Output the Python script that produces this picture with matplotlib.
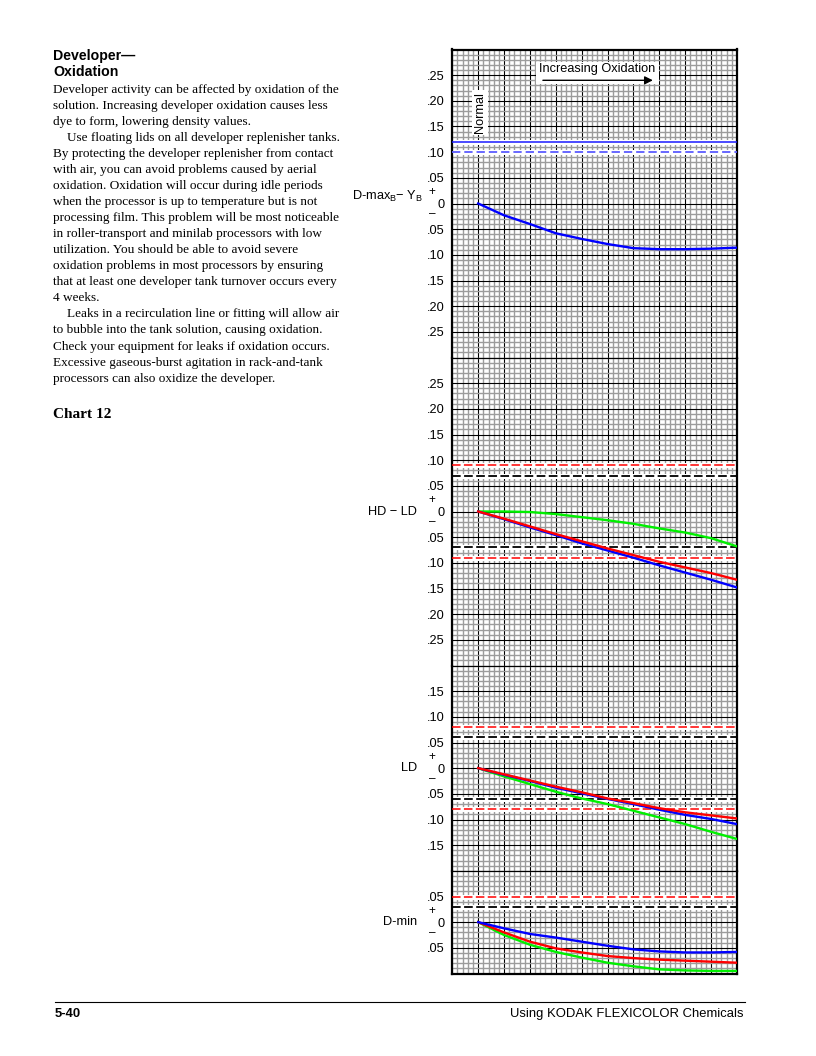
import matplotlib
matplotlib.use("Agg")
import matplotlib.pyplot as plt
from matplotlib.ticker import MultipleLocator, FixedLocator, FuncFormatter
from matplotlib.lines import Line2D
from matplotlib.patches import Rectangle

plt.rcParams['font.family'] = ['Liberation Sans', 'DejaVu Sans']
plt.rcParams['mathtext.fontset'] = 'custom'
plt.rcParams['mathtext.rm'] = 'Liberation Sans'
plt.rcParams['mathtext.it'] = 'Liberation Sans:italic'
plt.rcParams['mathtext.bf'] = 'Liberation Sans:bold'

# ---------------- data ----------------
steps = [1, 2, 3, 4, 5, 6, 7, 8, 9, 10, 11]

dmax_blue = [0, -0.023, -0.040, -0.058, -0.069, -0.079, -0.087, -0.089, -0.089, -0.088, -0.086]

hdld_green = [0, 0.000, -0.001, -0.005, -0.011, -0.017, -0.024, -0.033, -0.041, -0.052, -0.068]
hdld_blue = [0, -0.015, -0.031, -0.046, -0.062, -0.076, -0.090, -0.105, -0.119, -0.133, -0.148]
hdld_red = [0, -0.014, -0.029, -0.044, -0.058, -0.072, -0.085, -0.098, -0.109, -0.120, -0.133]

ld_green = [0, -0.016, -0.031, -0.046, -0.059, -0.070, -0.083, -0.096, -0.109, -0.124, -0.138]
ld_blue = [0, -0.013, -0.025, -0.038, -0.049, -0.060, -0.070, -0.081, -0.091, -0.099, -0.109]
ld_red = [0, -0.012, -0.024, -0.036, -0.047, -0.059, -0.068, -0.078, -0.086, -0.092, -0.098]

dmin_green = [0, -0.025, -0.044, -0.058, -0.069, -0.079, -0.086, -0.092, -0.094, -0.095, -0.095]
dmin_red = [0, -0.020, -0.038, -0.051, -0.059, -0.066, -0.070, -0.073, -0.075, -0.077, -0.079]
dmin_blue = [0, -0.012, -0.023, -0.030, -0.038, -0.046, -0.053, -0.057, -0.059, -0.059, -0.058]

# control limits
dmax_aim = 0.12
dmax_limit = 0.10
hdld_red_limit = 0.09
hdld_black_limit = 0.07
ld_red_limit = 0.08
ld_black_limit = 0.06
dmin_red_limit = 0.05
dmin_black_limit = 0.03

panel_names = ["D-max", "HD-LD", "LD", "D-min"]
panel_ranges = [(-0.30, 0.30), (-0.30, 0.30), (-0.20, 0.20), (-0.10, 0.10)]
panel_labels = [
    [0.25, 0.20, 0.15, 0.10, 0.05, 0, -0.05, -0.10, -0.15, -0.20, -0.25],
    [0.25, 0.20, 0.15, 0.10, 0.05, 0, -0.05, -0.10, -0.15, -0.20, -0.25],
    [0.15, 0.10, 0.05, 0, -0.05, -0.10, -0.15],
    [0.05, 0, -0.05],
]

body_lines = [
    ("Developer activity can be affected by oxidation of the", False),
    ("solution. Increasing developer oxidation causes less", False),
    ("dye to form, lowering density values.", False),
    ("Use floating lids on all developer replenisher tanks.", True),
    ("By protecting the developer replenisher from contact", False),
    ("with air, you can avoid problems caused by aerial", False),
    ("oxidation. Oxidation will occur during idle periods", False),
    ("when the processor is up to temperature but is not", False),
    ("processing film. This problem will be most noticeable", False),
    ("in roller-transport and minilab processors with low", False),
    ("utilization. You should be able to avoid severe", False),
    ("oxidation problems in most processors by ensuring", False),
    ("that at least one developer tank turnover occurs every", False),
    ("4 weeks.", False),
    ("Leaks in a recirculation line or fitting will allow air", True),
    ("to bubble into the tank solution, causing oxidation.", False),
    ("Check your equipment for leaks if oxidation occurs.", False),
    ("Excessive gaseous-burst agitation in rack-and-tank", False),
    ("processors can also oxidize the developer.", False),
]

# ---------------- layout ----------------
W, H = 816, 1056
fig = plt.figure(figsize=(W / 100, H / 100), dpi=100)
fig.patch.set_facecolor('white')


def fx(px):
    return px / W


def fy(py):
    return 1 - py / H


LEFT, RIGHT = 452.3, 737.0
TOP, BOTTOM = 49.5, 973.5
rows = [12, 12, 8, 4]
row_h = (BOTTOM - TOP) / sum(rows)

BLUE = '#0000ff'
RED = '#ff0000'
GREEN = '#00f000'

fmt = FuncFormatter(lambda v, p: '0' if abs(v) < 1e-9 else ('%.2f' % abs(v))[1:])

axes = []
y0 = TOP
for i, (nr, rng, labs) in enumerate(zip(rows, panel_ranges, panel_labels)):
    y1 = y0 + nr * row_h
    ax = fig.add_axes([fx(LEFT), fy(y1), fx(RIGHT) - fx(LEFT), (y1 - y0) / H])
    ax.set_xlim(0, 11)
    ax.set_ylim(*rng)
    ax.set_facecolor('white')
    ax.xaxis.set_major_locator(MultipleLocator(1))
    ax.xaxis.set_minor_locator(MultipleLocator(0.2))
    ax.yaxis.set_major_locator(FixedLocator(labs))
    ax.yaxis.set_minor_locator(MultipleLocator(0.01))
    ax.yaxis.set_major_formatter(fmt)
    ax.tick_params(which='both', length=0)
    ax.tick_params(axis='x', labelbottom=False)
    ax.tick_params(axis='y', labelsize=9.2, pad=5.6)
    ax.set_axisbelow(True)
    ax.grid(which='minor', color='#9c9c9c', lw=1.0)
    ax.grid(which='major', color='black', lw=0.8)
    for side in ['left', 'right']:
        ax.spines[side].set_linewidth(1.6)
    ax.spines['top'].set_linewidth(1.6 if i == 0 else 0.8)
    ax.spines['bottom'].set_linewidth(1.6 if i == len(rows) - 1 else 0.8)
    axes.append(ax)
    y0 = y1

ax_dmax, ax_hdld, ax_ld, ax_dmin = axes


def limit(ax, y, color, lw=1.0, dashes=(6, 2.2), solid=False):
    ax.axhline(y, color='white', lw=3.6, zorder=2)
    if solid:
        ax.axhline(y, color=color, lw=lw, zorder=3)
    else:
        ax.axhline(y, color=color, lw=lw, dashes=dashes, zorder=3)


# D-max panel
limit(ax_dmax, dmax_aim, '#1a1aff', lw=1.1, solid=True)
limit(ax_dmax, dmax_limit, '#5c5cff', lw=1.3, dashes=(4.6, 2.2))

ax_dmax.plot(steps, dmax_blue, color=BLUE, lw=1.7, zorder=4)

# HD-LD panel
for s in (1, -1):
    limit(ax_hdld, s * hdld_red_limit, RED, lw=1.1, dashes=(5.6, 2.2))
    limit(ax_hdld, s * hdld_black_limit, 'black', lw=1.3, dashes=(4.8, 1.9))
ax_hdld.plot(steps, hdld_green, color=GREEN, lw=1.7, zorder=4)
ax_hdld.plot(steps, hdld_blue, color=BLUE, lw=1.7, zorder=5)
ax_hdld.plot(steps, hdld_red, color=RED, lw=1.7, zorder=6)

# LD panel
for s in (1, -1):
    limit(ax_ld, s * ld_red_limit, RED, lw=1.1, dashes=(5.6, 2.2))
    limit(ax_ld, s * ld_black_limit, 'black', lw=1.3, dashes=(4.8, 1.9))
ax_ld.plot(steps, ld_green, color=GREEN, lw=1.7, zorder=4)
ax_ld.plot(steps, ld_blue, color=BLUE, lw=1.7, zorder=5)
ax_ld.plot(steps, ld_red, color=RED, lw=1.7, zorder=6)

# D-min panel
limit(ax_dmin, dmin_red_limit, RED, lw=1.1, dashes=(5.6, 2.2))
limit(ax_dmin, dmin_black_limit, 'black', lw=1.3, dashes=(4.8, 1.9))
ax_dmin.plot(steps, dmin_green, color=GREEN, lw=1.7, zorder=4)
ax_dmin.plot(steps, dmin_red, color=RED, lw=1.7, zorder=5)
ax_dmin.plot(steps, dmin_blue, color=BLUE, lw=1.7, zorder=6)

# annotations inside top panel
ax_dmax.text(1.07, 0.178, 'Normal', rotation=90, ha='center', va='center', fontsize=9.2,
             zorder=7, bbox=dict(facecolor='white', edgecolor='none', pad=1.5))
ax_dmax.add_patch(Rectangle((3.25, 0.232), 4.72, 0.043, facecolor='white', edgecolor='none', zorder=7))
ax_dmax.text(5.6, 0.262, 'Increasing Oxidation', ha='center', va='center', fontsize=9.2, zorder=8)
ax_dmax.annotate('', xy=(7.75, 0.240), xytext=(3.5, 0.240), zorder=8,
                 arrowprops=dict(arrowstyle='-|>', color='black', lw=1.0, mutation_scale=12,
                                 shrinkA=0, shrinkB=0))


def side_text(ax, s, dx, dy, size=9.2, **kw):
    ax.annotate(s, xy=(0, 0), xycoords=('axes fraction', 'data'),
                xytext=(dx * 0.72, dy * 0.72), textcoords='offset points', fontsize=size, **kw)


side_text(ax_dmax, r'D-max$_\mathrm{B}$− Y$_\mathrm{B}$', -29.5, 3.5, ha='right', va='baseline')
side_text(ax_hdld, 'HD − LD', -35.5, 0, ha='right', va='center')
side_text(ax_ld, 'LD', -35.5, 0, ha='right', va='center')
side_text(ax_dmin, 'D-min', -35.5, 0, ha='right', va='center')
for ax in axes:
    side_text(ax, '+', -20, 11.5, size=8.5, ha='center', va='center')
    side_text(ax, '–', -20, -11, size=8.5, ha='center', va='center')

# ---------------- left column text ----------------
fig.text(fx(53.3), fy(60), 'Developer—', fontsize=10.2, fontweight='bold', va='baseline')
fig.text(fx(53.3), fy(76), 'Oxidation', fontsize=10.2, fontweight='bold', va='baseline')

y = 92.7
for line, indent in body_lines:
    fig.text(fx(66.7 if indent else 53.3), fy(y), line, fontsize=9.5,
             family='Liberation Serif', va='baseline')
    y += 16.05

fig.text(fx(53.3), fy(417.5), 'Chart 12', fontsize=11, fontweight='bold',
         family='Liberation Serif', va='baseline')

# ---------------- footer ----------------
fig.add_artist(Line2D([fx(55), fx(745)], [fy(1002), fy(1002)], transform=fig.transFigure,
                      color='black', lw=0.8))
fig.text(fx(55), fy(1017), '5-40', fontsize=9.4, fontweight='bold', va='baseline')
fig.text(fx(743), fy(1017), 'Using KODAK FLEXICOLOR Chemicals', fontsize=9.4,
         ha='right', va='baseline')

fig.savefig('out.png', dpi=100, facecolor='white')
